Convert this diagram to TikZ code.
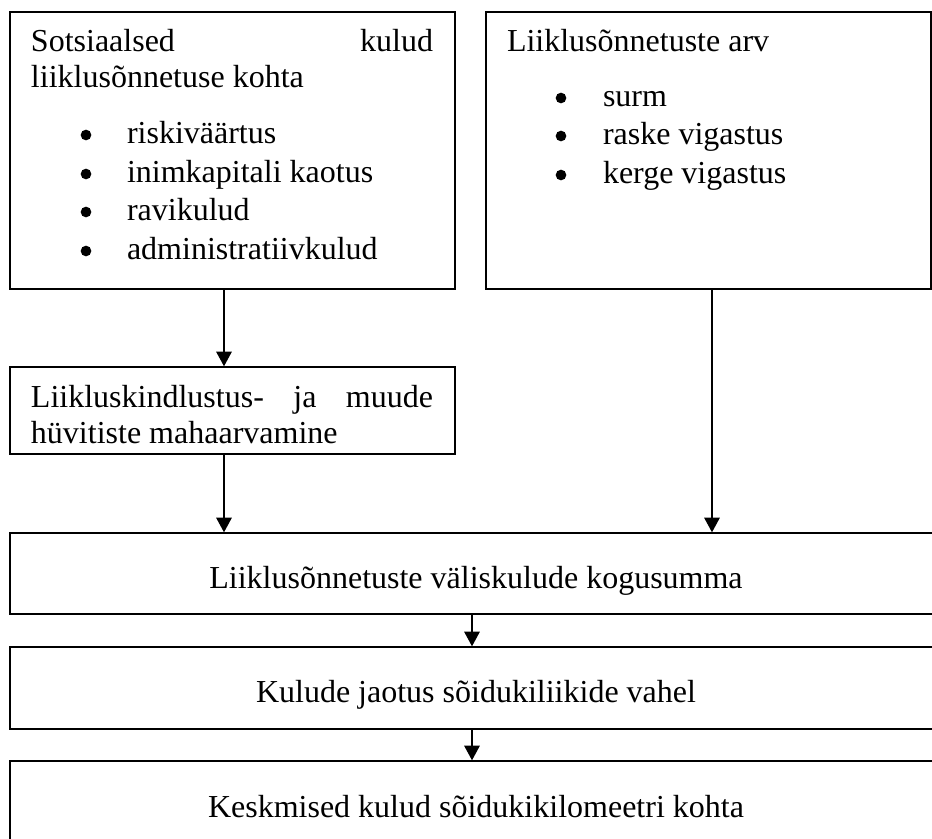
\documentclass[tikz,border=0pt]{standalone}
\usepackage{fontspec}
\setmainfont{Liberation Serif}
\usetikzlibrary{arrows.meta}
\tikzset{
  box/.style={draw=black, line width=1pt, rectangle, inner sep=0pt},
  txt/.style={inner sep=0pt, outer sep=0pt, anchor=base west, font=\fontsize{24}{28}\selectfont},
  ctxt/.style={inner sep=0pt, outer sep=0pt, anchor=base, font=\fontsize{24}{28}\selectfont},
  bul/.style={circle, fill=black, inner sep=0pt, outer sep=0pt, minimum size=8pt},
  arr/.style={line width=1.5pt, -{Triangle[length=11pt,width=11.5pt]}}
}
\begin{document}
\begin{tikzpicture}[x=0.75pt,y=-0.75pt]
\useasboundingbox (0,0) rectangle (932,839);
\clip (0,0) rectangle (932,839);
% boxes
\node[box, minimum width=333.75pt, minimum height=207.75pt] (b1) at (232.5,150.5) {};
\node[box, minimum width=333.75pt, minimum height=207.75pt] (b2) at (708.5,150.5) {};
\node[box, minimum width=333.75pt, minimum height=65.25pt] (b3) at (232.5,410.5) {};
\node[box, minimum width=699pt, minimum height=60.75pt] (b4) at (476,573.5) {};
\node[box, minimum width=699pt, minimum height=61.5pt] (b5) at (476,688) {};
\node[box, minimum width=699pt, minimum height=61.5pt] (b6) at (476,802) {};
% box 1 text
\node[txt] (t1a) at (31,51) {\makebox[301.5pt][s]{Sotsiaalsed\hfill kulud}};
\node[txt] (t1b) at (31,87) {liiklusõnnetuse kohta};
\node[bul] (p1) at (86,135) {};
\node[txt] (i1) at (127,143) {riskiväärtus};
\node[bul] (p2) at (86,174) {};
\node[txt] (i2) at (127,182) {inimkapitali kaotus};
\node[bul] (p3) at (86,212) {};
\node[txt] (i3) at (127,220) {ravikulud};
\node[bul] (p4) at (86,251) {};
\node[txt] (i4) at (127,259) {administratiivkulud};
% box 2 text
\node[txt] (t2) at (507,51) {Liiklusõnnetuste arv};
\node[bul] (q1) at (561,98) {};
\node[txt] (j1) at (603,106) {surm};
\node[bul] (q2) at (561,136) {};
\node[txt] (j2) at (603,144) {raske vigastus};
\node[bul] (q3) at (561,175) {};
\node[txt] (j3) at (603,183) {kerge vigastus};
% box 3 text
\node[txt] (t3a) at (31,407) {\makebox[301.5pt][s]{Liikluskindlustus-\hfill ja\hfill muude}};
\node[txt] (t3b) at (31,443) {hüvitiste mahaarvamine};
% lower boxes text
\node[ctxt] (t4) at (476,588) {Liiklusõnnetuste väliskulude kogusumma};
\node[ctxt] (t5) at (476,702) {Kulude jaotus sõidukiliikide vahel};
\node[ctxt] (t6) at (476,817) {Keskmised kulud sõidukikilomeetri kohta};
% arrow columns
\coordinate (cA) at (224,0);
\coordinate (cB) at (712,0);
\coordinate (cC) at (472,0);
\draw[arr] (b1.south -| cA) -- (b3.north -| cA);
\draw[arr] (b3.south -| cA) -- (b4.north -| cA);
\draw[arr] (b2.south -| cB) -- (b4.north -| cB);
\draw[arr] (b4.south -| cC) -- (b5.north -| cC);
\draw[arr] (b5.south -| cC) -- (b6.north -| cC);
\end{tikzpicture}
\end{document}
